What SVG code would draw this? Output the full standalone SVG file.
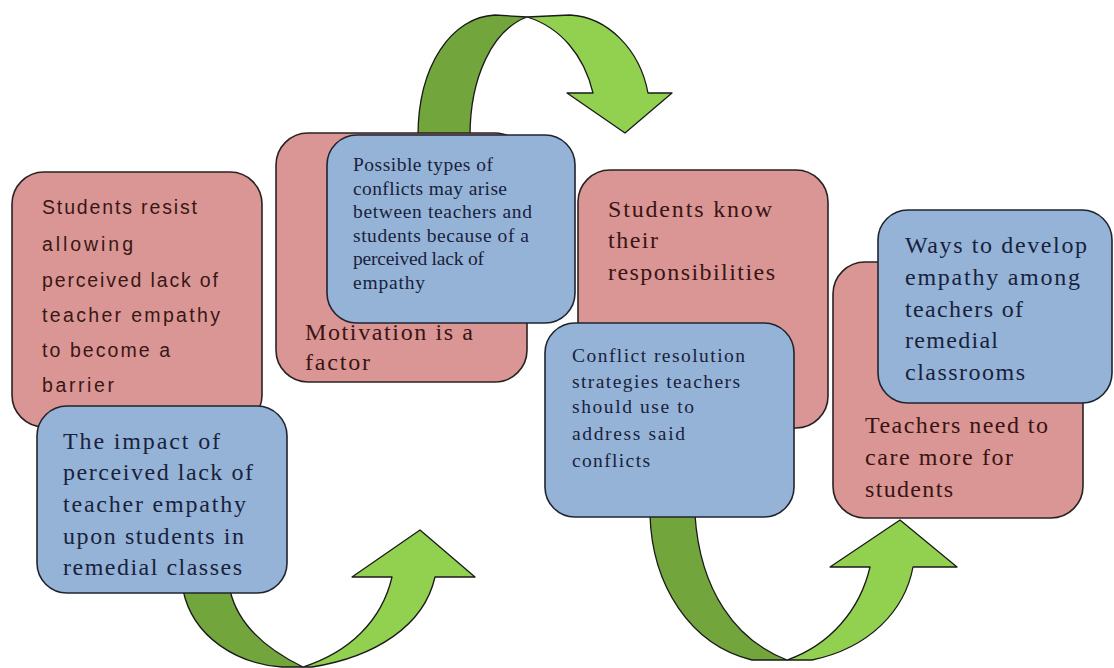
<svg xmlns="http://www.w3.org/2000/svg" width="1114" height="668" viewBox="0 0 1114 668">
<style>
.pink{fill:#d99694;stroke:#2a2222;stroke-width:1.6}
.blue{fill:#95b3d7;stroke:#1f2430;stroke-width:1.6}
.dark{fill:#72a53c;stroke:#1a1a1a;stroke-width:1.3;stroke-linejoin:round}
.light{fill:#92d050;stroke:#1a1a1a;stroke-width:1.3;stroke-linejoin:round}
.ts{font-family:"Liberation Sans",Arial,sans-serif;font-size:19.5px;fill:#3a1616}
.tp{font-family:"Liberation Serif","Times New Roman",serif;font-size:24px;fill:#3a1414}
.tb{font-family:"Liberation Serif","Times New Roman",serif;font-size:24px;fill:#18223c}
.tbs{font-family:"Liberation Serif","Times New Roman",serif;font-size:19.5px;fill:#18223c}
</style>
<rect width="1114" height="668" fill="#ffffff"/>
<g id="connectors">
  <!-- top arrow -->
  <path class="dark" d="M418,136 C418,65 452,17 495,15 L527,17 C492,30 470,78 470,136 Z"/>
  <path class="light" d="M527,17 L570,15 C608,17 640,50 648,93 L672,93 L625,133 L567,93 L593,93 C584,55 560,27 527,17 Z"/>
  <!-- bottom left arrow -->
  <path class="dark" d="M183,590 C193,638 238,664 282,667 L303,667 C268,650 238,626 230,590 Z"/>
  <path class="light" d="M303,667 L312,667 C375,657 424,626 435,577 L475,577 L420,530 L352,577 L392,577 C382,620 350,652 303,667 Z"/>
  <!-- bottom right arrow -->
  <path class="dark" d="M650,515 C652,585 690,645 752,660 L787,660 C735,640 700,590 695,515 Z"/>
  <path class="light" d="M787,660 L812,660 C870,648 905,610 913,567 L957,567 L900,520 L830,567 L870,567 C860,610 830,645 787,660 Z"/>
</g>
<g id="node-resist">
  <rect class="pink" x="12" y="172" width="250" height="255" rx="32"/>
  <text class="ts">
    <tspan x="42" y="214" textLength="155" lengthAdjust="spacing">Students resist</tspan>
    <tspan x="42" y="251" textLength="91" lengthAdjust="spacing">allowing</tspan>
    <tspan x="42" y="287" textLength="176" lengthAdjust="spacing">perceived lack of</tspan>
    <tspan x="42" y="322" textLength="178" lengthAdjust="spacing">teacher empathy</tspan>
    <tspan x="42" y="357" textLength="128" lengthAdjust="spacing">to become a</tspan>
    <tspan x="42" y="392" textLength="72" lengthAdjust="spacing">barrier</tspan>
  </text>
</g>
<g id="node-impact">
  <rect class="blue" x="37" y="406" width="250" height="187" rx="30"/>
  <text class="tb">
    <tspan x="63" y="449" textLength="157" lengthAdjust="spacing">The impact of</tspan>
    <tspan x="63" y="480" textLength="190" lengthAdjust="spacing">perceived lack of</tspan>
    <tspan x="63" y="512" textLength="183" lengthAdjust="spacing">teacher empathy</tspan>
    <tspan x="63" y="544" textLength="181" lengthAdjust="spacing">upon students in</tspan>
    <tspan x="63" y="575" textLength="179" lengthAdjust="spacing">remedial classes</tspan>
  </text>
</g>
<g id="node-motivation">
  <rect class="pink" x="276" y="133" width="251" height="249" rx="32"/>
  <text class="tp">
    <tspan x="305" y="340" textLength="168" lengthAdjust="spacing">Motivation is a</tspan>
    <tspan x="305" y="370" textLength="65" lengthAdjust="spacing">factor</tspan>
  </text>
</g>
<g id="node-conflicts">
  <rect class="blue" x="327" y="135" width="248" height="188" rx="30"/>
  <text class="tbs">
    <tspan x="353" y="171" textLength="140" lengthAdjust="spacing">Possible types of</tspan>
    <tspan x="353" y="194.5" textLength="154" lengthAdjust="spacing">conflicts may arise</tspan>
    <tspan x="353" y="218" textLength="179" lengthAdjust="spacing">between teachers and</tspan>
    <tspan x="353" y="241.5" textLength="176" lengthAdjust="spacing">students because of a</tspan>
    <tspan x="353" y="265" textLength="131" lengthAdjust="spacing">perceived lack of</tspan>
    <tspan x="353" y="288.5" textLength="72" lengthAdjust="spacing">empathy</tspan>
  </text>
</g>
<g id="node-responsibilities">
  <rect class="pink" x="578" y="170" width="250" height="258" rx="32"/>
  <text class="tp">
    <tspan x="608" y="217" textLength="164" lengthAdjust="spacing">Students know</tspan>
    <tspan x="608" y="248" textLength="50" lengthAdjust="spacing">their</tspan>
    <tspan x="608" y="280" textLength="167" lengthAdjust="spacing">responsibilities</tspan>
  </text>
</g>
<g id="node-resolution">
  <rect class="blue" x="545" y="323" width="249" height="194" rx="30"/>
  <text class="tbs">
    <tspan x="572" y="362" textLength="173" lengthAdjust="spacing">Conflict resolution</tspan>
    <tspan x="572" y="388" textLength="168" lengthAdjust="spacing">strategies teachers</tspan>
    <tspan x="572" y="413" textLength="122" lengthAdjust="spacing">should use to</tspan>
    <tspan x="572" y="440" textLength="113" lengthAdjust="spacing">address said</tspan>
    <tspan x="572" y="467" textLength="78" lengthAdjust="spacing">conflicts</tspan>
  </text>
</g>
<g id="node-care">
  <rect class="pink" x="833" y="262" width="250" height="256" rx="32"/>
  <text class="tp">
    <tspan x="865" y="433" textLength="183" lengthAdjust="spacing">Teachers need to</tspan>
    <tspan x="865" y="465" textLength="148" lengthAdjust="spacing">care more for</tspan>
    <tspan x="865" y="497" textLength="88" lengthAdjust="spacing">students</tspan>
  </text>
</g>
<g id="node-ways">
  <rect class="blue" x="878" y="210" width="234" height="193" rx="30"/>
  <text class="tb">
    <tspan x="905" y="253" textLength="182" lengthAdjust="spacing">Ways to develop</tspan>
    <tspan x="905" y="285" textLength="175" lengthAdjust="spacing">empathy among</tspan>
    <tspan x="905" y="317" textLength="118" lengthAdjust="spacing">teachers of</tspan>
    <tspan x="905" y="348" textLength="93" lengthAdjust="spacing">remedial</tspan>
    <tspan x="905" y="380" textLength="120" lengthAdjust="spacing">classrooms</tspan>
  </text>
</g>
</svg>
